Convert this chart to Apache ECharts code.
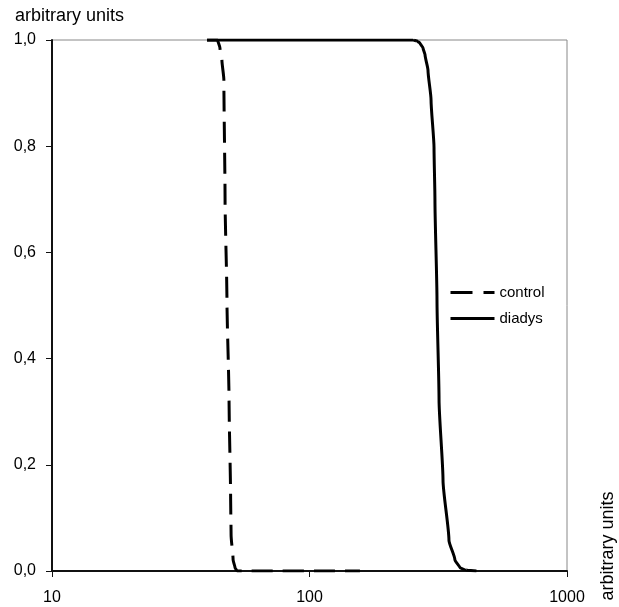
<!DOCTYPE html>
<html>
<head>
<meta charset="utf-8">
<script src="https://cdn.jsdelivr.net/npm/echarts@6/dist/echarts.min.js"></script>
<style>
html,body{margin:0;padding:0;background:#fff;}
#chart{width:619px;height:607px;}
</style>
</head>
<body>
<div id="chart"></div>
<script>
var seriesNames = ['control', 'diadys'];
var controlX = [40, 44, 44.9, 45.7, 46.5, 47.0, 47.8, 48.7, 49.4, 49.6, 50.5, 51.4, 52.3, 157];
var controlY = [1.0, 1.0, 0.985, 0.962, 0.925, 0.699, 0.510, 0.322, 0.134, 0.068, 0.021, 0.006, 0.0, 0.0];
var diadysX = [40, 252, 262, 268.6, 276, 281, 288.5, 296.5, 304.5, 307, 312.7, 318.5, 330, 348, 367, 384, 402, 445];
var diadysY = [1.0, 1.0, 0.998, 0.994, 0.985, 0.972, 0.943, 0.887, 0.797, 0.699, 0.510, 0.322, 0.171, 0.058, 0.021, 0.006, 0.002, 0.0];
var xTickLabels = ['10', '100', '1000'];
var yTickLabels = ['0,0', '0,2', '0,4', '0,6', '0,8', '1,0'];
var axisTitle = 'arbitrary units';

function pairs(xs, ys) { return xs.map(function (x, i) { return [x, ys[i]]; }); }

var FONT = '"Liberation Sans", Arial, sans-serif';
var chart = echarts.init(document.getElementById('chart'), null, { renderer: 'canvas' });
chart.setOption({
  animation: false,
  backgroundColor: '#fff',
  grid: { left: 52, top: 40, right: 52, bottom: 36, show: true, borderColor: '#888', borderWidth: 1, backgroundColor: 'transparent' },
  xAxis: {
    type: 'log', logBase: 10, min: 10, max: 1000,
    axisLine: { show: true, lineStyle: { color: '#111', width: 2 } },
    axisTick: { show: true, length: 6, lineStyle: { color: '#111', width: 1 } },
    minorTick: { show: false },
    splitLine: { show: false },
    axisLabel: {
      margin: 19, color: '#000', fontSize: 16, fontFamily: FONT,
      formatter: function (v) { var i = Math.round(Math.log10(v)) - 1; return xTickLabels[i] !== undefined ? xTickLabels[i] : ''; }
    }
  },
  yAxis: {
    type: 'value', min: 0, max: 1, interval: 0.2,
    axisLine: { show: true, lineStyle: { color: '#111', width: 2 } },
    axisTick: { show: true, length: 6, lineStyle: { color: '#111', width: 1 } },
    splitLine: { show: false },
    axisLabel: {
      margin: 16, color: '#000', fontSize: 16, fontFamily: FONT,
      formatter: function (v) { return yTickLabels[Math.round(v / 0.2)]; }
    }
  },
  legend: {
    orient: 'vertical', left: 444, top: 280, itemWidth: 44, itemHeight: 14, itemGap: 11,
    itemStyle: { opacity: 0 },
    textStyle: { color: '#000', fontSize: 15, fontFamily: FONT },
    data: [
      { name: seriesNames[0], lineStyle: { width: 3, type: [22, 11], color: '#000' } },
      { name: seriesNames[1], lineStyle: { width: 3, type: 'solid', color: '#000' } }
    ]
  },
  graphic: [
    { type: 'text', left: 15, top: 7, style: { text: axisTitle, fill: '#000', font: '18px ' + FONT } },
    { type: 'text', x: 608, y: 546, rotation: Math.PI / 2,
      style: { text: axisTitle, fill: '#000', font: '18px ' + FONT, align: 'center', verticalAlign: 'middle' } }
  ],
  series: [
    { name: seriesNames[0], type: 'line', symbol: 'none', smooth: 0.2, smoothMonotone: 'y',
      lineStyle: { color: '#000', width: 3, type: [21, 10] }, itemStyle: { color: '#000' },
      data: pairs(controlX, controlY) },
    { name: seriesNames[1], type: 'line', symbol: 'none', smooth: 0.2, smoothMonotone: 'y',
      lineStyle: { color: '#000', width: 3, type: 'solid' }, itemStyle: { color: '#000' },
      data: pairs(diadysX, diadysY) }
  ]
});
</script>
</body>
</html>
